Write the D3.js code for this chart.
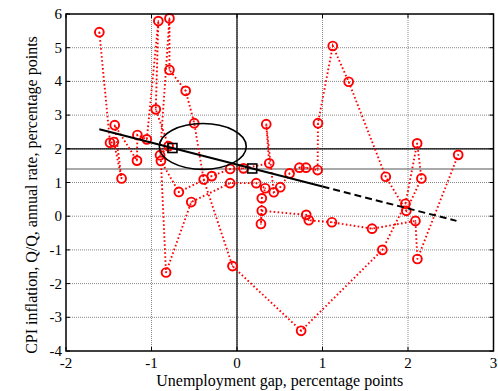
<!DOCTYPE html>
<html><head><meta charset="utf-8">
<script src="https://cdnjs.cloudflare.com/ajax/libs/d3/7.8.5/d3.min.js"></script>
<style>body{margin:0;background:#fff}svg{display:block}text{font-family:"Liberation Serif","DejaVu Serif",serif;fill:#000}</style>
</head><body><svg id="c" width="498" height="391"></svg>
<script>
// data (unemployment gap, inflation) in chronological order of the path
const gapX = [-1.61,-1.485,-1.44,-1.35,-1.43,-1.17,-1.165,-1.055,-0.92,-0.95,-0.80,-0.90,-0.79,-0.79,-0.60,-0.50,-0.39,-0.053,0.75,1.70,1.97,2.107,2.157,1.98,1.74,1.306,1.12,0.947,0.943,0.807,0.73,0.615,0.506,0.43,0.342,0.377,0.076,-0.08,-0.295,-0.68,-0.89,-0.83,-0.535,-0.08,0.225,0.33,0.29,0.28,0.29,0.81,0.84,1.11,1.58,2.087,2.11,2.587];
const inflY = [5.46,2.18,2.20,1.12,2.70,1.65,2.41,2.28,5.79,3.17,2.08,1.81,5.87,4.34,3.72,2.76,1.09,-1.48,-3.40,-1.00,0.37,2.16,1.12,0.16,1.17,3.99,5.05,2.76,1.37,1.44,1.44,1.27,0.86,0.71,2.73,1.57,1.42,1.40,1.19,0.72,1.64,-1.67,0.42,0.98,0.98,0.83,0.53,-0.23,0.16,0.04,-0.12,-0.18,-0.37,-0.14,-1.27,1.82];
const xTicks = [-2,-1,0,1,2,3];
const yTicks = [-4,-3,-2,-1,0,1,2,3,4,5,6];
const fitSlope = -0.651, fitIntercept = 1.532;
const fitSolidX = [-1.61, 1.0];
const fitDashX = [1.0, 2.567];
const squareX = [-0.755, 0.178];
const ellipseC = [-0.40, 2.07], ellipseR = [0.508, 0.68];
const refY = [2.0, 1.40];
const xLabel = "Unemployment gap, percentage points";
const yLabel = "CPI inflation, Q/Q, annual rate, percentage points";

const svg = d3.select("#c");
const L=66,R=493.5,T=14,B=351;
const x = d3.scaleLinear().domain([-2,3]).range([L,R]);
const y = d3.scaleLinear().domain([-4,6]).range([B,T]);

// grid
const g = svg.append("g");
g.selectAll(".gx").data(xTicks.slice(1,-1)).join("line")
 .attr("x1",d=>x(d)).attr("x2",d=>x(d)).attr("y1",T).attr("y2",B)
 .attr("stroke","#888").attr("stroke-width",1).attr("stroke-dasharray","1,1");
g.selectAll(".gy").data(yTicks.slice(1,-1)).join("line")
 .attr("y1",d=>y(d)).attr("y2",d=>y(d)).attr("x1",L).attr("x2",R)
 .attr("stroke","#888").attr("stroke-width",1).attr("stroke-dasharray","1,1");
// reference lines
svg.append("line").attr("x1",L).attr("x2",R).attr("y1",y(refY[0])).attr("y2",y(refY[0])).attr("stroke","#000").attr("stroke-width",1.2);
svg.append("line").attr("x1",L).attr("x2",R).attr("y1",y(refY[1])).attr("y2",y(refY[1])).attr("stroke","#555").attr("stroke-width",1.2);
svg.append("line").attr("x1",x(0)).attr("x2",x(0)).attr("y1",T).attr("y2",B).attr("stroke","#000").attr("stroke-width",1.2);

// data path
const pts = gapX.map((v,i)=>[v,inflY[i]]);
svg.append("path").attr("d",d3.line().x(d=>x(d[0])).y(d=>y(d[1]))(pts))
 .attr("fill","none").attr("stroke","#ff0000").attr("stroke-width",1.9).attr("stroke-dasharray","1.6,2.4");
svg.selectAll(".m").data(pts).join("circle")
 .attr("cx",d=>x(d[0])).attr("cy",d=>y(d[1])).attr("r",4.4)
 .attr("fill","none").attr("stroke","#ff0000").attr("stroke-width",1.9);
svg.selectAll(".md").data(pts).join("circle")
 .attr("cx",d=>x(d[0])).attr("cy",d=>y(d[1])).attr("r",0.8).attr("fill","#ff0000");

// fit line
const fl = d3.line().x(d=>x(d)).y(d=>y(fitIntercept+fitSlope*d));
svg.append("path").attr("d",fl(fitSolidX)).attr("stroke","#000").attr("stroke-width",2).attr("fill","none");
svg.append("path").attr("d",fl(fitDashX)).attr("stroke","#000").attr("stroke-width",2).attr("fill","none").attr("stroke-dasharray","7,4");
svg.selectAll(".sq").data(squareX).join("rect")
 .attr("x",d=>x(d)-4.5).attr("y",d=>y(fitIntercept+fitSlope*d)-4.5).attr("width",9).attr("height",9)
 .attr("fill","none").attr("stroke","#000").attr("stroke-width",1.6);
// ellipse
svg.append("ellipse").attr("cx",x(ellipseC[0])).attr("cy",y(ellipseC[1]))
 .attr("rx",x(ellipseR[0])-x(0)).attr("ry",y(0)-y(ellipseR[1]))
 .attr("fill","none").attr("stroke","#000").attr("stroke-width",1.6);

// axes frame + ticks
svg.append("rect").attr("x",L).attr("y",T).attr("width",R-L).attr("height",B-T).attr("fill","none").attr("stroke","#000").attr("stroke-width",1.5);
const tl=4;
svg.selectAll(".tb").data(xTicks).join("line").attr("x1",d=>x(d)).attr("x2",d=>x(d)).attr("y1",B).attr("y2",B-tl).attr("stroke","#000");
svg.selectAll(".tt").data(xTicks).join("line").attr("x1",d=>x(d)).attr("x2",d=>x(d)).attr("y1",T).attr("y2",T+tl).attr("stroke","#000");
svg.selectAll(".tlf").data(yTicks).join("line").attr("y1",d=>y(d)).attr("y2",d=>y(d)).attr("x1",L).attr("x2",L+tl).attr("stroke","#000");
svg.selectAll(".tr").data(yTicks).join("line").attr("y1",d=>y(d)).attr("y2",d=>y(d)).attr("x1",R).attr("x2",R-tl).attr("stroke","#000");
// tick labels
svg.selectAll(".xl").data(xTicks).join("text").attr("x",d=>x(d)).attr("y",368).attr("text-anchor","middle").attr("font-size",15).text(d=>d);
svg.selectAll(".yl").data(yTicks).join("text").attr("x",L-4).attr("y",d=>y(d)+5).attr("text-anchor","end").attr("font-size",15).text(d=>d);
// axis labels
svg.append("text").attr("x",(L+R)/2).attr("y",386).attr("text-anchor","middle").attr("font-size",16).text(xLabel);
svg.append("text").attr("transform","translate(37,195) rotate(-90)").attr("text-anchor","middle").attr("font-size",16).text(yLabel);
</script></body></html>
